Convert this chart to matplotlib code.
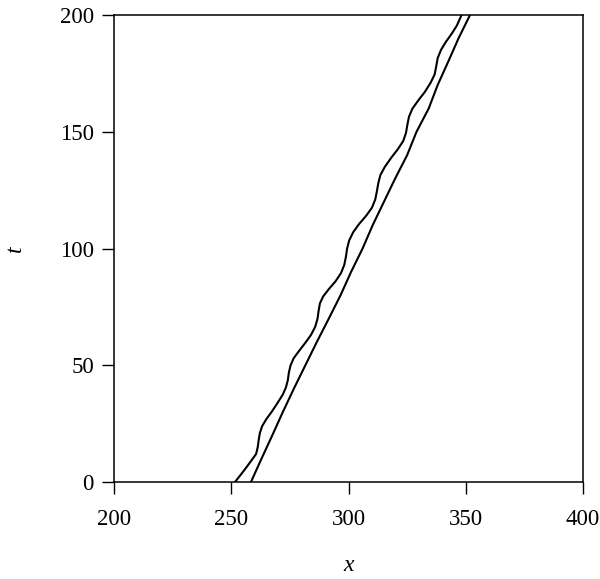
import matplotlib
matplotlib.use("Agg")
import matplotlib.pyplot as plt

# left (wavy) curve: x positions and times
wave_x = [251.6, 255.5, 258.8, 260.6, 261.3, 261.7, 262.2, 263.2, 265.0, 267.2,
          269.5, 272.0, 273.3, 274.1, 274.6, 275.3, 276.6, 278.8, 281.5, 284.0,
          285.8, 286.8, 287.2, 287.8, 289.2, 291.5, 294.5, 296.8, 298.2, 298.9,
          299.4, 300.3, 302.0, 304.5, 307.5, 310.0, 311.4, 312.1, 312.7, 313.6,
          315.5, 318.3, 321.0, 323.3, 324.5, 325.1, 325.8, 327.3, 329.8, 332.5,
          335.0, 336.7, 337.4, 338.0, 339.4, 341.5, 344.0, 346.2, 348.2]
wave_t = [0, 5, 9.5, 12, 15, 18, 21, 24, 27, 30,
          33.5, 37.5, 40.5, 43.5, 47, 50, 53, 56, 59.5, 63,
          66.5, 70, 73, 76.5, 79.5, 82.5, 86, 89.5, 93, 96.5,
          100, 103.5, 107, 110.5, 114, 117.5, 121, 124.5, 128, 131.5,
          135, 139, 142.5, 146, 149.5, 153, 156.5, 160, 163.5, 167,
          171, 174.5, 178, 181.5, 185, 188.5, 192, 195.5, 200]

# right (nearly straight) curve
line_t = [0, 10, 20, 30, 40, 50, 60, 70, 80, 90, 100,
          110, 120, 130, 140, 150, 160, 170, 180, 190, 200]
line_x = [258.4, 262.9, 267.5, 272.0, 276.7, 281.6, 286.5, 291.6, 296.6, 301.1, 306.0,
          310.3, 315.1, 319.9, 325.0, 329.0, 334.2, 338.0, 342.5, 346.9, 351.8]

x_ticks = [200, 250, 300, 350, 400]
t_ticks = [0, 50, 100, 150, 200]

plt.rcParams['font.family'] = ['Liberation Serif', 'DejaVu Serif']

fig = plt.figure(figsize=(6, 5.79), dpi=100)
ax = fig.add_axes([0.19, 0.1675, 0.7817, 0.8065])

ax.plot(wave_x, wave_t, color='black', lw=1.5, solid_joinstyle='round')
ax.plot(line_x, line_t, color='black', lw=1.5, solid_joinstyle='round')

ax.set_xlim(200, 400)
ax.set_ylim(0, 200)
ax.set_xticks(x_ticks)
ax.set_yticks(t_ticks)
ax.tick_params(axis='both', direction='out', length=8.5, width=1,
               labelsize=16.5, colors='black')
ax.tick_params(axis='x', pad=11)
ax.tick_params(axis='y', pad=6)
for s in ax.spines.values():
    s.set_linewidth(1.1)

ax.set_xlabel('x', fontsize=17, style='italic', labelpad=18)
ax.set_ylabel('t', fontsize=17, style='italic', labelpad=24)

fig.savefig('out.png', dpi=100)
